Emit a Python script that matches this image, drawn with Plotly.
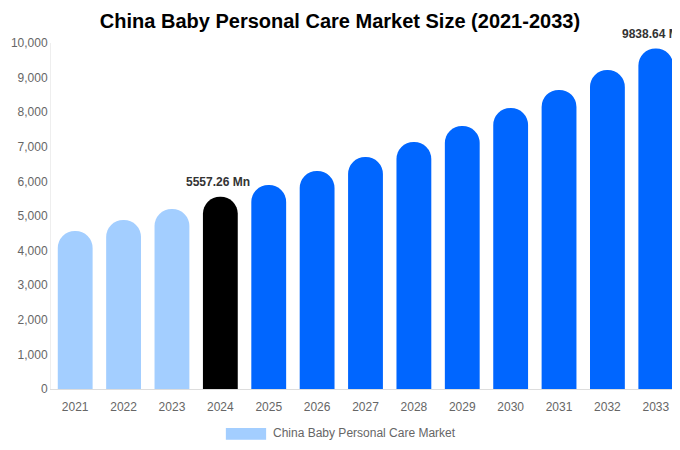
import plotly.graph_objects as go

# Datos del mercado (millones)
years = ["2021", "2022", "2023", "2024", "2025", "2026", "2027",
         "2028", "2029", "2030", "2031", "2032", "2033"]
market_size = [4565, 4885, 5200, 5557.26, 5895, 6300, 6705,
               7140, 7600, 8120, 8645, 9220, 9838.64]
bar_colors = ["#A3CEFF"] * 3 + ["#000000"] + ["#0066FF"] * 9
labeled = {"2024": "5557.26 Mn", "2033": "9838.64 Mn"}

fig = go.Figure()
fig.add_trace(go.Bar(
    x=years, y=market_size,
    marker=dict(color=bar_colors, cornerradius="50%", line=dict(width=0)),
    name="China Baby Personal Care Market",
    showlegend=False,
))

# Etiquetas sobre las barras (x como índice de categoría)
for yr, txt in labeled.items():
    i = years.index(yr)
    fig.add_annotation(
        x=i, y=market_size[i], text="<b>" + txt + "</b>",
        showarrow=False, yanchor="bottom", yshift=6, xshift=-2,
        font=dict(size=12, color="#333333"),
    )

# Leyenda manual
fig.add_shape(type="rect", xref="paper", yref="paper",
              x0=0.278, x1=0.342, y0=-0.113, y1=-0.147,
              fillcolor="#A3CEFF", line=dict(width=0))
fig.add_annotation(xref="paper", yref="paper", x=0.35, y=-0.128,
                   text="China Baby Personal Care Market", showarrow=False,
                   xanchor="left", yanchor="middle",
                   font=dict(size=12, color="#666666"))

# La página tiene un margen de 8 px; la figura se ajusta para compensarlo
fig.update_layout(
    title=dict(text="<b>China Baby Personal Care Market Size (2021-2033)</b>",
               x=0.494, xanchor="center", y=0.9706, yanchor="middle",
               font=dict(size=20, color="#000000")),
    font=dict(family="Liberation Sans, Arial, sans-serif", color="#666666", size=12),
    width=672, height=442,
    margin=dict(l=43, r=0, t=35, b=61),
    paper_bgcolor="white", plot_bgcolor="white",
    bargap=0.28,
)
fig.update_xaxes(type="category", range=[-0.5, len(years) - 0.5],
                 showline=True, linecolor="#DDDDDD", linewidth=1,
                 ticks="", ticklabelstandoff=7,
                 tickfont=dict(size=12, color="#666666"))
fig.update_yaxes(range=[0, 10000], dtick=1000, tickformat=",",
                 showgrid=False, zeroline=False, showline=True,
                 linecolor="#EEEEEE", linewidth=1, automargin=False,
                 ticks="", tickfont=dict(size=12, color="#666666"))

fig.write_html("out.html")
